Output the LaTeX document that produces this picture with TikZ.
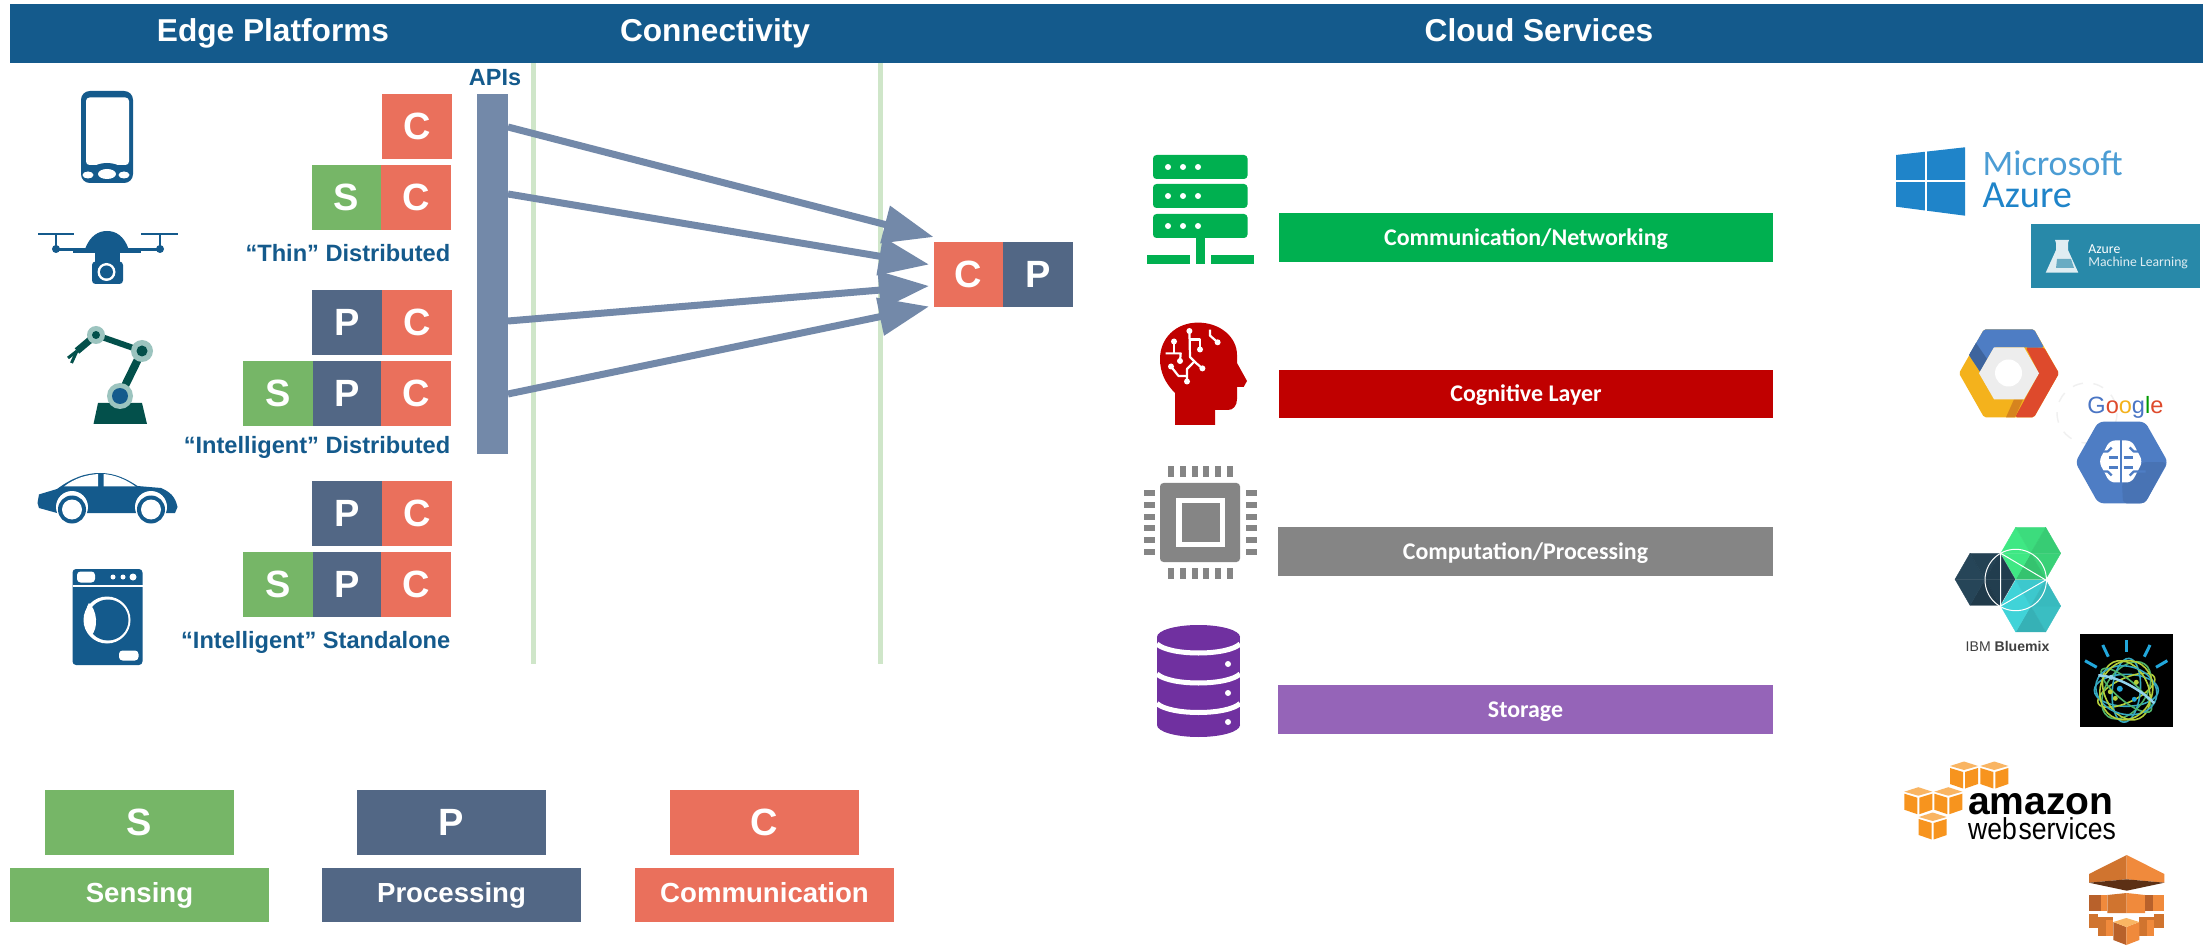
\documentclass[tikz,border=0pt]{standalone}
\usepackage{fontspec}
\usepackage{graphicx}
\setmainfont{Liberation Sans}
\newfontfamily\calfont{Carlito}
\usetikzlibrary{arrows.meta,positioning}
\definecolor{headblue}{HTML}{145A8C}
\definecolor{sgreen}{HTML}{76B667}
\definecolor{pslate}{HTML}{526785}
\definecolor{corange}{HTML}{EA705C}
\definecolor{apisteel}{HTML}{7389A9}
\definecolor{linegreen}{HTML}{CFE6C9}
\definecolor{netgreen}{HTML}{00B050}
\definecolor{cogred}{HTML}{C00000}
\definecolor{compgray}{HTML}{858585}
\definecolor{storelilac}{HTML}{9564B8}
\definecolor{storepurple}{HTML}{7030A0}
\definecolor{azureblue}{HTML}{1F84C9}
\definecolor{mlteal}{HTML}{2889A9}
\definecolor{gblue}{HTML}{4E7DC4}
\definecolor{gred}{HTML}{DE4A2C}
\definecolor{gyellow}{HTML}{F4B21C}
\definecolor{gtext}{HTML}{4A75C4}
\definecolor{hexgreen}{HTML}{3FE884}
\definecolor{hexteal}{HTML}{40D3D8}
\definecolor{hexdark}{HTML}{264558}
\definecolor{awsorange}{HTML}{F7941E}
\definecolor{awslight}{HTML}{F9B563}
\definecolor{boxlight}{HTML}{F08A3C}
\definecolor{boxmid}{HTML}{D0742F}
\definecolor{boxdark}{HTML}{B8612B}
\definecolor{robotdark}{HTML}{03504B}
\definecolor{robotlight}{HTML}{9CC4BF}
\definecolor{watsonblue}{HTML}{22A7DB}
\definecolor{watsonlime}{HTML}{B5CF3A}
\definecolor{watsonteal}{HTML}{35A9C0}
\definecolor{watsongreen}{HTML}{4FB26A}
\tikzset{
	letter/.style={text=white, font=\fontsize{10.8pt}{12pt}\selectfont\bfseries, inner sep=0pt, outer sep=0pt, minimum height=0.65cm},
	sblock/.style={letter, fill=sgreen, minimum width=0.7cm},
	pblock/.style={letter, fill=pslate, minimum width=0.7cm},
	cblock/.style={letter, fill=corange, minimum width=0.7cm},
	headtxt/.style={text=white, anchor=base, inner sep=0pt, font=\fontsize{9pt}{11pt}\selectfont\bfseries},
	tierlbl/.style={text=headblue, anchor=base east, inner sep=0pt, font=\fontsize{6.72pt}{8pt}\selectfont\bfseries},
	cloudbar/.style={text=white, inner sep=0pt, minimum height=0.49cm, text height=5.5pt, text depth=1pt, font=\calfont\fontsize{6.8pt}{8pt}\selectfont\bfseries},
	keytop/.style={letter, minimum width=1.89cm},
	keylbl/.style={text=white, inner sep=0pt, minimum width=2.59cm, minimum height=0.54cm, text height=6pt, text depth=1.6pt, font=\fontsize{7.85pt}{9pt}\selectfont\bfseries},
	apiarrow/.style={apisteel, line width=0.07cm, -{Triangle[length=0.5cm,width=0.37cm]}},
	trace/.style={white, line width=0.022cm},
}
\newcommand{\bluehex}[2]{%
	\foreach \ang/\mix in {0/90,60/84,120/100,180/100,240/95,300/88}
		\filldraw[#2!\mix!black, line width=0.1pt, shift={(#1)}] (0,0)--(\ang:30)--(\ang+60:30)--cycle;}
\newcommand{\awscube}[2]{%
	\fill[awslight, shift={(#1,#2)}] (0,-13.5)--(14,-9)--(0,-5)--(-14,-9)--cycle;
	\fill[awsorange, shift={(#1,#2)}] (-14,-7)--(-1,-3)--(-1,13.5)--(-14,9)--cycle;
	\fill[awsorange, shift={(#1,#2)}] (1,-3)--(14,-7)--(14,9)--(1,13.5)--cycle;}
\begin{document}
\begin{tikzpicture}[x=0.01cm, y=-0.01cm, line join=round, >=stealth]
	\useasboundingbox (0,0) rectangle (2203,946);
	\fill[white] (0,0) rectangle (2203,946);
	\fill[headblue] (10,4) rectangle (2203,63);
	\node[headtxt] (edgehead) at (273,42) {Edge Platforms};
	\node[headtxt] (connhead) at (715,42) {Connectivity};
	\node[headtxt] (cloudhead) at (1539,42) {Cloud Services};
	\fill[linegreen] (531,63) rectangle (536,664);
	\fill[linegreen] (878,63) rectangle (883,664);

	\node[cblock] (c1) at (417,126.5) {C};
	\node[sblock, minimum width=0.69cm] (s2) at (346.5,197.5) {S};
	\node[cblock, right=0pt of s2] (c2) {C};
	\node[tierlbl] (thin) at (451,261.5) {“Thin” Distributed};
	\node[pblock] (p3) at (347,322.5) {P};
	\node[cblock, right=0pt of p3] (c3) {C};
	\node[sblock] (s4) at (278,393.5) {S};
	\node[pblock, minimum width=0.68cm, right=0pt of s4] (p4) {P};
	\node[cblock, right=0pt of p4] (c4) {C};
	\node[tierlbl] (intdist) at (451,453.6) {“Intelligent” Distributed};
	\node[pblock] (p5) at (347,513.5) {P};
	\node[cblock, right=0pt of p5] (c5) {C};
	\node[sblock] (s6) at (278,584.5) {S};
	\node[pblock, minimum width=0.68cm, right=0pt of s6] (p6) {P};
	\node[cblock, right=0pt of p6] (c6) {C};
	\node[tierlbl] (intalone) at (451,648.3) {“Intelligent” Standalone};

	\node[fill=apisteel, inner sep=0pt, outer sep=0pt, minimum width=0.31cm, minimum height=3.6cm] (apibar) at (492.5,274) {};
	\node[text=headblue, font=\fontsize{6.66pt}{8pt}\selectfont\bfseries] (apilbl) at (495,78) {APIs};
	\node[cblock, minimum width=0.69cm] (hubc) at (968.5,274.5) {C};
	\node[pblock, right=0pt of hubc] (hubp) {P};
	\coordinate (api1) at (508,127);
	\coordinate (api2) at (508,194);
	\coordinate (api3) at (508,321);
	\coordinate (api4) at (508,394);
	\coordinate (tip1) at (933.5,237);
	\coordinate (tip2) at (929,264.5);
	\coordinate (tip3) at (929,286);
	\coordinate (tip4) at (929,306.5);
	\foreach \i in {1,2,3,4}
		\draw[apiarrow] (api\i)--(tip\i);

	\begin{scope}[headblue]
	\fill[rounded corners=2.5pt] (81,91) rectangle (133,183);
	\fill[white, rounded corners=1pt] (86,97.5) rectangle (129,165);
	\fill (107,168) ellipse (13 and 5);
	\fill[white] (88,175) ellipse (5.5 and 3.5);
	\fill[white] (107,174) ellipse (9 and 5);
	\fill[white] (124,175) ellipse (5.5 and 3.5);
	\fill (37.5,233) rectangle (74,235);
	\fill (141,233) rectangle (177.5,235);
	\fill (55,234) rectangle (57,250);
	\fill (159,234) rectangle (161,250);
	\fill (56,249) circle (4);
	\fill (160,249) circle (4);
	\fill (56,248.5) rectangle (160,251);
	\fill (73,248.5) rectangle (141,253);
	\fill (85,249) .. controls (90,236) and (98,231) .. (107,231) .. controls (116,231) and (124,236) .. (128.6,249)--cycle;
	\fill (95,253) rectangle (120,262);
	\fill[rounded corners=1pt] (92,261.5) rectangle (123,284);
	\fill[white] (106.5,272) circle (9);
	\fill (106.5,272) circle (6.5);
	\fill (37.5,503)--(39,494.4)--(57,489) .. controls (72,478) and (85,473) .. (100,473) .. controls (115,473) and (127,479) .. (137.5,486)--(161,488) .. controls (170,492) and (175,496) .. (177.5,507)--(175,513)--(57,513)--(39,508)--cycle;
	\fill[white] (64,486.5) .. controls (75,478) and (86,475) .. (98,474)--(98,486.5)--cycle;
	\fill[white] (103.5,474) .. controls (115,475) and (125,479) .. (135.7,486.5)--(103.5,486.5)--cycle;
	\foreach \x in {72,151} {
		\fill[white] (\x,507) circle (16);
		\fill (\x,509.5) circle (14);
		\fill[white] (\x,509.5) circle (10);
	}
	\fill[rounded corners=1pt] (72.5,569) rectangle (142.5,665);
	\fill[white] (72.5,585) rectangle (142.5,586.5);
	\fill[white, rounded corners=1pt] (77,571.5) rectangle (95,582.5);
	\fill[white] (113,577) circle (2.5);
	\fill[white] (123,577) circle (2.5);
	\fill[white] (133,577) circle (3.5);
	\fill[white] (107,620) circle (23.5);
	\fill (108,620) circle (20.5);
	\fill[white] (89,603) .. controls (97,610) and (99,628) .. (91,636) .. controls (84,628) and (84,610) .. (89,603)--cycle;
	\fill[white, rounded corners=1pt] (119,650.5) rectangle (138.5,660.5);
	\end{scope}

	\fill[robotdark] (98,403)--(142,403)--(147,424)--(93.5,424)--cycle;
	\draw[robotdark, line width=0.08cm] (120,396)--(142,351);
	\draw[robotdark, line width=0.06cm] (142,351)--(96,335);
	\draw[robotdark, line width=0.07cm] (96,335)--(77,351);
	\draw[robotdark, line width=0.03cm] (77,351)--(68,358);
	\draw[robotdark, line width=0.03cm] (77,351)--(71.5,363);
	\fill[robotlight] (120,396) circle (13);
	\fill[headblue] (120,396) circle (8);
	\fill[robotlight] (142,351) circle (11);
	\fill[robotdark] (142,351) circle (5.5);
	\fill[robotlight] (96,335) circle (9);
	\fill[robotdark] (96,335) circle (4);

	\node[cloudbar, fill=netgreen, minimum width=4.94cm] (netbar) at (1526,237.5) {Communication/Networking};
	\node[cloudbar, fill=cogred, minimum width=4.94cm, minimum height=0.475cm] (cogbar) at (1526,394) {Cognitive Layer};
	\node[cloudbar, fill=compgray, minimum width=4.95cm] (compbar) at (1525.5,551.5) {Computation/Processing};
	\node[cloudbar, fill=storelilac, minimum width=4.95cm] (storebar) at (1525.5,709.5) {Storage};

	\begin{scope}[netgreen]
	\foreach \y in {155,184,214} {
		\fill[rounded corners=1pt] (1153,\y) rectangle (1247.5,\y+24);
		\foreach \x in {1168,1183,1198}
			\fill[white] (\x,\y+12) circle (3);
	}
	\fill (1196,237) rectangle (1205,255);
	\fill (1147,255) rectangle (1190,264);
	\fill (1196,255) rectangle (1205,264);
	\fill (1211,255) rectangle (1253.5,264);
	\end{scope}

	\fill[cogred] (1175,425)--(1175,393) .. controls (1165,383) and (1160,372) .. (1160,359) .. controls (1160,338) and (1176,322.6) .. (1198,322.6) .. controls (1220,322.6) and (1237,337) .. (1237,355)--(1237,363)--(1247,381)--(1243.6,387)--(1237,387)--(1237,399) .. controls (1237,406) and (1233,410) .. (1228,410)--(1215,410)--(1215,425)--cycle;
	\draw[trace] (1189.4,331)--(1190,357)--(1196,363)--(1202.4,368.4);
	\draw[trace] (1189.4,339.6)--(1200,339.6)--(1200,349.5);
	\draw[trace] (1174,341.5)--(1174,353.4);
	\draw[trace] (1165.5,353.4)--(1180.7,353.4)--(1180,361);
	\draw[trace] (1171,366.5)--(1178.5,376)--(1187,376)--(1187,381.5);
	\draw[trace] (1187,376)--(1187,369)--(1194.6,361.3);
	\draw[trace] (1210,329.7)--(1210,335.6)--(1217.6,342.3);
	\foreach \x/\y in {1189.4/331,1200/349.5,1174/341.5,1180/361,1171/366.5,1187/381.5,1202.4/368.4,1217.6/342.3}
		\fill[white] (\x,\y) circle (3);

	\begin{scope}[compgray]
	\fill[rounded corners=1pt] (1160,483) rectangle (1240,562);
	\fill[white] (1175.5,498) rectangle (1225,547);
	\fill (1181.6,503) rectangle (1220,541.6);
	\foreach \x in {1168,1180,1191.5,1203,1215,1227} {
		\fill (\x,466.5) rectangle ++(6,10.5);
		\fill (\x,568) rectangle ++(6,11);
	}
	\foreach \y in {493,505,516.5,528,540,552} {
		\fill (1144,\y-3) rectangle ++(11,6);
		\fill (1246,\y-3) rectangle ++(11,6);
	}
	\end{scope}

	\begin{scope}[storepurple]
	\fill (1198.5,637) ellipse (41.5 and 12);
	\fill (1157,637) rectangle (1240,725);
	\fill (1198.5,725) ellipse (41.5 and 12);
	\foreach \y in {644,674,703.5}
		\draw[white, line width=0.05cm] (1157,\y) .. controls (1170,\y+12) and (1227,\y+12) .. (1240,\y);
	\foreach \y in {664,693,722}
		\fill[white] (1228,\y) circle (3);
	\end{scope}

	\begin{scope}[azureblue]
	\fill (1896,155)--(1965,147.3)--(1965,215.7)--(1896,206.7)--cycle;
	\fill[white] (1925.3,145) rectangle (1926.8,218);
	\fill[white] (1890,180.3) rectangle (1970,181.8);
	\node[anchor=base west, inner sep=0pt, text=azureblue!80!white, font=\calfont\fontsize{10.2pt}{12pt}\selectfont] (mslbl) at (1982,175.7) {Microsoft};
	\node[anchor=base west, inner sep=0pt, font=\calfont\fontsize{10.9pt}{12pt}\selectfont] (azlbl) at (1982,207.7) {Azure};
	\end{scope}
	\fill[mlteal] (2031,224) rectangle (2200,287.7);
	\fill[white!85!mlteal] (2055,240)--(2069,240)--(2068,243)--(2068,250)--(2078.3,272.7)--(2045.7,272.7)--(2056,250)--(2056,243)--cycle;
	\fill[mlteal!70!white] (2057,259)--(2071,259)--(2074,268)--(2056,268)--cycle;
	\node[anchor=west, inner sep=0pt, text=white, font=\calfont\fontsize{3.9pt}{5pt}\selectfont] (mlazure) at (2087.7,249.3) {Azure};
	\node[anchor=west, inner sep=0pt, text=white!85!mlteal, font=\calfont\fontsize{3.9pt}{5pt}\selectfont] (mlname) at (2087.7,263.3) {Machine Learning};

	\fill[gyellow, rounded corners=0.5pt] (1984,329.3)--(2034,329.3)--(2059,373.3)--(2034,417.3)--(1984,417.3)--(1959,373.3)--cycle;
	\fill[gred, rounded corners=0.5pt] (2025.7,347.3)--(2044,347.6)--(2059,373.3)--(2034,417.3)--(2015,417.3)--(2039,373.3)--cycle;
	\fill[gyellow!70!gred!90!black] (2014,399.3)--(2023,399.3)--(2015,417.3)--(2006,417.3)--cycle;
	\fill[gblue, rounded corners=0.5pt] (1984,329.3)--(2034,329.3)--(2044,347.6)--(1994,347.3)--(1980,371.7)--(1969,355)--cycle;
	\fill[gblue!80!black] (1969,355)--(1980,371.7)--(1987,359)--(1976,343)--cycle;
	\fill[black!7] (1979,373.3)--(1994,347.3)--(2024,347.3)--(2039,373.3)--(2024,399.3)--(1994,399.3)--cycle;
	\fill[white] (2008.5,373) circle (13.5);
	\draw[black!6, dashed] (2087,413) circle (30);
	\node[anchor=base west, inner sep=0pt, font=\fontsize{6.7pt}{8pt}\selectfont] (googlelbl) at (2086.7,413.3) {\textcolor{gtext}{G}\textcolor{gred}{o}\textcolor{gyellow}{o}\textcolor{gtext}{g}\textcolor{green!60!black}{l}\textcolor{gred}{e}};
	\fill[gblue, rounded corners=1.5pt] (2075.3,462.3)--(2098.3,421.7)--(2145,421.7)--(2168,462.3)--(2145,503.3)--(2098.3,503.3)--cycle;
	\fill[gblue!92!black, rounded corners=1pt] (2143,462)--(2167,462.3)--(2145,503.3)--(2123,503.3)--(2122,483)--cycle;
	\begin{scope}[shift={(2120.7,461.5)}]
	\fill[white, rounded corners=1.5pt] (-11,-21)--(11,-21)--(22,0)--(11,21)--(-11,21)--(-22,0)--cycle;
	\fill[gblue] (-1.2,-23) rectangle (1.2,23);
	\foreach \s in {-1,1} {
		\draw[gblue, line width=0.022cm] (\s*25,-10)--(\s*13,-10)--(\s*9,-14);
		\draw[gblue, line width=0.022cm] (\s*3,-4)--(\s*12,-4);
		\draw[gblue, line width=0.022cm] (\s*3,6)--(\s*12,6);
		\draw[gblue, line width=0.022cm] (\s*25,10)--(\s*13,10)--(\s*9,14);
	}
	\end{scope}

	\bluehex{2030.7,553.3}{hexgreen}
	\bluehex{2030.7,606}{hexteal}
	\bluehex{1985,579.3}{hexdark}
	\draw[white, line width=0.01cm] (2015.7,580) circle (30.7);
	\draw[white, line width=0.01cm] (2045.7,580)--(2000.7,553.3)--(2000.7,606)--cycle;
	\node[inner sep=0pt, text=black!75, font=\fontsize{4pt}{5pt}\selectfont] (bluemix) at (2007.5,646.7) {IBM \textbf{Bluemix}};

	\fill[black] (2080,634) rectangle (2173,727);
	\foreach \xa/\ya/\xb/\yb in {2126.7/640/2126.7/651.7,2102.7/645/2108.3/656.7,2150/645/2144.3/656.7,2085/660.7/2096.7/667.3,2167.3/660.7/2156/667.3}
		\draw[watsonblue, line width=0.03cm] (\xa,\ya)--(\xb,\yb);
	\begin{scope}[shift={(2126.3,690.3)}]
	\foreach \rot/\ra/\rb/\globecol in {0/32/16/watsonteal,25/31/12/watsonlime,55/32/20/watsongreen,85/32/14/watsonteal,115/31/22/watsonlime,140/32/10/watsongreen,165/31/24/watsonteal,70/30/26/watsonlime}
		\draw[\globecol, line width=0.016cm, rotate=\rot] (0,0) ellipse [x radius=\ra, y radius=\rb];
	\draw[watsonblue!50!white, line width=0.025cm] (-28,-15) .. controls (-8,-14) and (15,0) .. (28,13);
	\fill[watsonblue] (-6.5,-1.5) circle (3);
	\fill[watsonlime] (-16,1.5) circle (2.5);
	\fill[watsonlime] (10,-8) circle (2.5);
	\fill[watsonblue] (8,9) circle (2.5);
	\fill[watsonblue!50!white] (-15,-13) circle (2.5);
	\fill[watsonlime] (-11,8) circle (2.5);
	\end{scope}

	\awscube{1964}{775}
	\awscube{1994.3}{775}
	\awscube{1918.3}{800.7}
	\awscube{1948.3}{800.7}
	\awscube{1932.7}{826}
	\node[anchor=base west, inner sep=0pt, font=\fontsize{11.1pt}{13pt}\selectfont\bfseries] (amazon) at (1967.5,814) {amazon};
	\node[anchor=base west, inner sep=0pt, font=\fontsize{7.55pt}{9pt}\selectfont] (webserv) at (1967.5,839.3) {\scalebox{1}[1.14]{web\hspace{0.06em}services}};

	\fill[boxmid] (2126.7,855)--(2089,874)--(2089,882.7)--(2126.7,879.3)--cycle;
	\fill[boxlight] (2126.7,855)--(2164.3,874)--(2164.3,882.7)--(2126.7,879.3)--cycle;
	\fill[boxdark!50!black] (2089,882.7)--(2126.7,879.3)--(2164.3,882.7)--(2126.7,890.7)--cycle;
	\fill[boxdark] (2089,895) rectangle (2101,911);
	\fill[boxlight] (2101,895) rectangle (2107.3,911);
	\fill[boxmid] (2107.3,895)--(2126.7,893)--(2126.7,913)--(2107.3,913)--cycle;
	\fill[boxlight] (2126.7,893)--(2145,895)--(2145,913)--(2126.7,913)--cycle;
	\fill[boxdark] (2145,895) rectangle (2152.7,911);
	\fill[boxlight] (2152.7,895) rectangle (2164.3,911);
	\foreach \xa/\xb/\ya/\yb in {2089/2098/914/928,2098/2113/917/936,2139.3/2154/917/936,2154/2164.3/914/928}
		\fill[boxmid] (\xa,\ya) rectangle (\xb,\yb);
	\fill[boxlight] (2105.5,920) rectangle (2113,936);
	\fill[boxlight] (2146.5,920) rectangle (2154,936);
	\fill[boxdark] (2113.3,922)--(2126.3,927)--(2126.3,945)--(2113.3,940)--cycle;
	\fill[boxlight] (2126.3,927)--(2139.3,922)--(2139.3,940)--(2126.3,945)--cycle;
	\fill[awslight] (2113.3,922)--(2126.3,918)--(2139.3,922)--(2126.3,927)--cycle;

	\node[keytop, fill=sgreen] (skey) at (139.5,822.5) {S};
	\node[keylbl, fill=sgreen] (slbl) at (139.5,895) {Sensing};
	\node[keytop, fill=pslate] (pkey) at (451.5,822.5) {P};
	\node[keylbl, fill=pslate] (plbl) at (451.5,895) {Processing};
	\node[keytop, fill=corange] (ckey) at (764.5,822.5) {C};
	\node[keylbl, fill=corange] (clbl) at (764.5,895) {Communication};
\end{tikzpicture}
\end{document}
